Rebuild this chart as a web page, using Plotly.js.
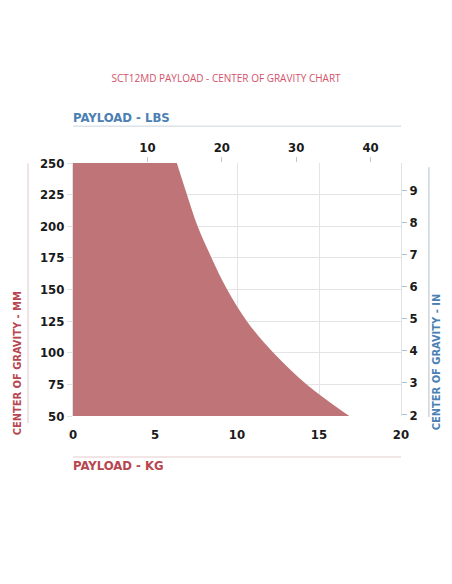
<!DOCTYPE html>
<html>
<head>
<meta charset="utf-8">
<script src="https://cdn.plot.ly/plotly-3.0.1.min.js"></script>
<style>
html,body{margin:0;padding:0;background:#fff;}
#chart{width:452px;height:584px;}
</style>
</head>
<body>
<div id="chart"></div>
<script>
// Data
var cgMM = [250, 225, 200, 175, 150, 125, 100, 75, 50];
var payloadKG = [6.33, 6.95, 7.6, 8.45, 9.4, 10.6, 12.22, 14.25, 16.85];
var kgTicks = [0, 5, 10, 15, 20];
var lbsTicks = [10, 20, 30, 40];
var mmTicks = [50, 75, 100, 125, 150, 175, 200, 225, 250];
var inTicks = [2, 3, 4, 5, 6, 7, 8, 9];

var KG_TO_LBS = 2.20462;
var MM_TO_IN = 1 / 25.4;
var kgRange = [0, 20];
var mmRange = [50, 250];

var condFamily = 'DejaVu Sans Condensed, Noto Sans, sans-serif';
var tickFont = {family: condFamily, size: 13, color: '#1a1a1a', weight: 'bold'};
var red = '#b8464f';
var blue = '#4b80b3';

var traces = [
  {
    x: payloadKG, y: cgMM, type: 'scatter', mode: 'lines',
    line: {width: 0, shape: 'spline', color: '#bf7577'},
    fill: 'tozerox', fillcolor: '#bf7577',
    xaxis: 'x', yaxis: 'y', hoverinfo: 'skip', showlegend: false
  },
  {
    x: [kgRange[0] * KG_TO_LBS, kgRange[1] * KG_TO_LBS], y: [mmRange[0] * MM_TO_IN, mmRange[1] * MM_TO_IN],
    type: 'scatter', mode: 'markers', marker: {opacity: 0},
    xaxis: 'x2', yaxis: 'y2', hoverinfo: 'skip', showlegend: false
  }
];

var layout = {
  width: 452, height: 584,
  margin: {l: 73, r: 51, t: 163, b: 168, pad: 0},
  paper_bgcolor: '#ffffff', plot_bgcolor: '#ffffff',
  showlegend: false,
  title: {
    text: 'SCT12MD PAYLOAD - CENTER OF GRAVITY CHART',
    x: 0.5, xanchor: 'center', y: 0.865, yanchor: 'middle',
    font: {family: 'Open Sans, sans-serif', size: 10, color: '#d2526b'}
  },
  xaxis: {
    range: kgRange, tickvals: kgTicks, ticktext: kgTicks.map(String),
    showgrid: true, gridcolor: '#e4e4e4', gridwidth: 1,
    zeroline: false, showline: false,
    ticks: 'outside', ticklen: 6, tickcolor: 'rgba(0,0,0,0)',
    tickfont: tickFont, fixedrange: true
  },
  yaxis: {
    range: mmRange, tickvals: mmTicks, ticktext: mmTicks.map(String),
    showgrid: true, gridcolor: '#e4e4e4', gridwidth: 1,
    zeroline: false, showline: true, linecolor: '#e0e3e6', linewidth: 1,
    ticks: 'outside', ticklen: 5, tickcolor: '#e0e3e6',
    tickfont: tickFont, fixedrange: true
  },
  xaxis2: {
    overlaying: 'x', side: 'top', anchor: 'y',
    range: [kgRange[0] * KG_TO_LBS, kgRange[1] * KG_TO_LBS],
    tickvals: lbsTicks, ticktext: lbsTicks.map(String),
    showgrid: false, zeroline: false, showline: false,
    ticks: 'outside', ticklen: 5, tickcolor: '#b9c9d6',
    tickfont: tickFont, fixedrange: true
  },
  yaxis2: {
    overlaying: 'y', side: 'right', anchor: 'x',
    range: [mmRange[0] * MM_TO_IN, mmRange[1] * MM_TO_IN],
    tickvals: inTicks, ticktext: inTicks.map(String),
    showgrid: false, zeroline: false, showline: true, linecolor: '#e0e3e6', linewidth: 1,
    ticks: 'outside', ticklen: 5, tickcolor: '#a9c3d4',
    tickfont: tickFont, fixedrange: true
  },
  shapes: [
    {type: 'line', xref: 'paper', yref: 'paper', x0: 0, x1: 1, y0: 1.145, y1: 1.145, line: {color: '#dde3e8', width: 1.5}},
    {type: 'line', xref: 'paper', yref: 'paper', x0: 0, x1: 1, y0: -0.162, y1: -0.162, line: {color: '#eedcdc', width: 1.5}},
    {type: 'line', xref: 'paper', yref: 'paper', x0: -0.137, x1: -0.137, y0: -0.028, y1: 0.999, line: {color: '#ecdadb', width: 1.5}},
    {type: 'line', xref: 'paper', yref: 'paper', x0: 1.085, x1: 1.085, y0: -0.004, y1: 0.983, line: {color: '#c9d6e0', width: 1.5}}
  ],
  annotations: [
    {text: 'PAYLOAD - LBS', xref: 'paper', yref: 'paper', x: -0.005, y: 1.18, xanchor: 'left', yanchor: 'middle', showarrow: false,
     font: {family: condFamily, size: 13, color: blue, weight: 'bold'}},
    {text: 'PAYLOAD - KG', xref: 'paper', yref: 'paper', x: -0.005, y: -0.197, xanchor: 'left', yanchor: 'middle', showarrow: false,
     font: {family: condFamily, size: 13, color: red, weight: 'bold'}},
    {text: 'CENTER OF GRAVITY - MM', xref: 'paper', yref: 'paper', x: -0.17, y: 0.209, xanchor: 'center', yanchor: 'middle', textangle: -90, showarrow: false,
     font: {family: condFamily, size: 11, color: red, weight: 'bold'}},
    {text: 'CENTER OF GRAVITY - IN', xref: 'paper', yref: 'paper', x: 1.107, y: 0.213, xanchor: 'center', yanchor: 'middle', textangle: -90, showarrow: false,
     font: {family: condFamily, size: 11, color: blue, weight: 'bold'}}
  ]
};

Plotly.newPlot('chart', traces, layout, {displayModeBar: false, staticPlot: true});
</script>
</body>
</html>
